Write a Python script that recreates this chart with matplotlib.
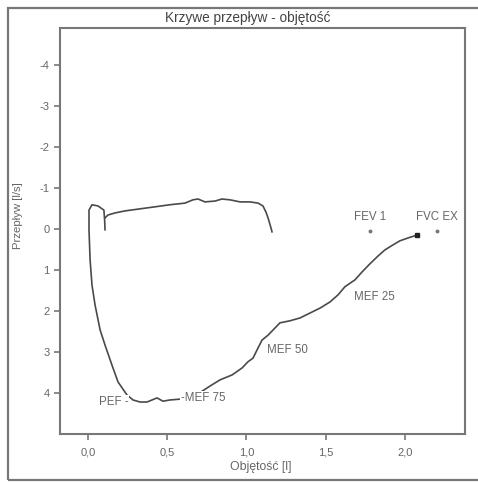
import matplotlib
matplotlib.use("Agg")
import matplotlib.pyplot as plt
from matplotlib.patches import Rectangle

# Inspiratory-side (upper) curve: volume [l], flow [l/s]
insp_vol = [0.107, 0.126, 0.170, 0.233, 0.328, 0.423, 0.517, 0.612, 0.662, 0.694,
            0.738, 0.801, 0.845, 0.896, 0.959, 1.022, 1.073, 1.104, 1.123, 1.136,
            1.155, 1.161]
insp_flow = [-0.27, -0.34, -0.39, -0.44, -0.49, -0.54, -0.59, -0.63, -0.71, -0.73,
             -0.66, -0.68, -0.73, -0.71, -0.66, -0.66, -0.63, -0.56, -0.41, -0.27,
             -0.02, 0.07]

# Expiratory loop
exp_vol = [0.107, 0.105, 0.100, 0.063, 0.025, 0.006, 0.006, 0.013, 0.025, 0.044, 0.076,
           0.107, 0.151, 0.189, 0.246, 0.284, 0.328, 0.372, 0.404, 0.435, 0.473,
           0.517, 0.580, 0.675, 0.770, 0.833, 0.909, 0.972, 1.009, 1.041, 1.073,
           1.098, 1.136, 1.211, 1.274, 1.338, 1.401, 1.464, 1.527, 1.577, 1.621,
           1.685, 1.729, 1.779, 1.830, 1.874, 1.924, 1.968, 2.019, 2.076]
exp_flow = [0.02, -0.20, -0.46, -0.56, -0.59, -0.46, 0.02, 0.76, 1.37, 1.85, 2.46,
            2.83, 3.32, 3.73, 4.05, 4.17, 4.22, 4.22, 4.17, 4.12, 4.20,
            4.17, 4.15, 4.07, 3.83, 3.68, 3.56, 3.39, 3.24, 3.15, 2.90,
            2.71, 2.59, 2.29, 2.24, 2.17, 2.05, 1.93, 1.78, 1.61, 1.41,
            1.24, 1.05, 0.85, 0.66, 0.51, 0.39, 0.29, 0.22, 0.15]

# Annotations
label_names = ["PEF -", "-MEF 75", "MEF 50", "MEF 25"]
label_vol = [0.255, 0.585, 1.13, 1.68]
label_flow = [4.22, 4.12, 2.95, 1.66]
label_ha = ["right", "left", "left", "left"]

point_names = ["FEV 1", "FVC EX"]
point_vol = [1.78, 2.20]
point_flow = [0.05, 0.05]

xticks = [0.0, 0.5, 1.0, 1.5, 2.0]
xticklabels = ["0,0", "0,5", "1,0", "1,5", "2,0"]
yticks = [-4, -3, -2, -1, 0, 1, 2, 3, 4]
yticklabels = ["-4", "-3", "-2", "-1", "0", "1", "2", "3", "4"]

W, H = 478, 482
fig = plt.figure(figsize=(W / 100, H / 100), dpi=100)
fig.patch.set_facecolor("white")
plt.rcParams["font.family"] = ["Liberation Sans", "DejaVu Sans"]

# outer frame
fig.add_artist(Rectangle((8 / W, 1 - 480 / H), 1.2, 472 / H, transform=fig.transFigure,
                         fill=False, edgecolor="#777777", linewidth=1.6))

ax = fig.add_axes([60 / W, 1 - 434 / H, 405 / W, 406 / H])
ax.set_xlim(-0.177, 2.379)
ax.set_ylim(5.0, -4.9)

curve_c = "#4a4a4a"
ax.plot(insp_vol, insp_flow, color=curve_c, lw=1.2)
ax.plot(exp_vol, exp_flow, color=curve_c, lw=1.2)
ax.plot(exp_vol[-1], exp_flow[-1], marker="s", ms=3.5, color="#222222")

txt_c = "#666666"
for name, v, f, ha in zip(label_names, label_vol, label_flow, label_ha):
    ax.text(v, f, name, ha=ha, va="center", fontsize=8.3, color=txt_c,
            bbox=dict(facecolor="white", edgecolor="none", pad=0.5))
for name, v, f in zip(point_names, point_vol, point_flow):
    ax.plot(v, f, marker="o", ms=1.8, color="#777777")
    ax.text(v, f - 0.33, name, ha="center", va="center", fontsize=8.3, color=txt_c)

ax.set_xticks(xticks)
ax.set_xticklabels(xticklabels)
ax.set_yticks(yticks)
ax.set_yticklabels(yticklabels)
ax.tick_params(axis="both", labelsize=8, colors="#777777", labelcolor=txt_c,
               length=4, width=1.2, direction="out")
ax.tick_params(axis="x", pad=6)
for s in ax.spines.values():
    s.set_color("#777777")
    s.set_linewidth(1.5)

fig.text(248 / W, 1 - 18 / H, "Krzywe przepływ - objętość", ha="center", va="center",
         fontsize=9.8, color="#444444")
fig.text(261 / W, 1 - 467 / H, "Objętość [l]", ha="center", va="center",
         fontsize=8.8, color=txt_c)
fig.text(18 / W, 1 - 216 / H, "Przepływ [l/s]", ha="center", va="center",
         rotation=90, fontsize=8.2, color=txt_c)

fig.savefig("out.png", dpi=100)
